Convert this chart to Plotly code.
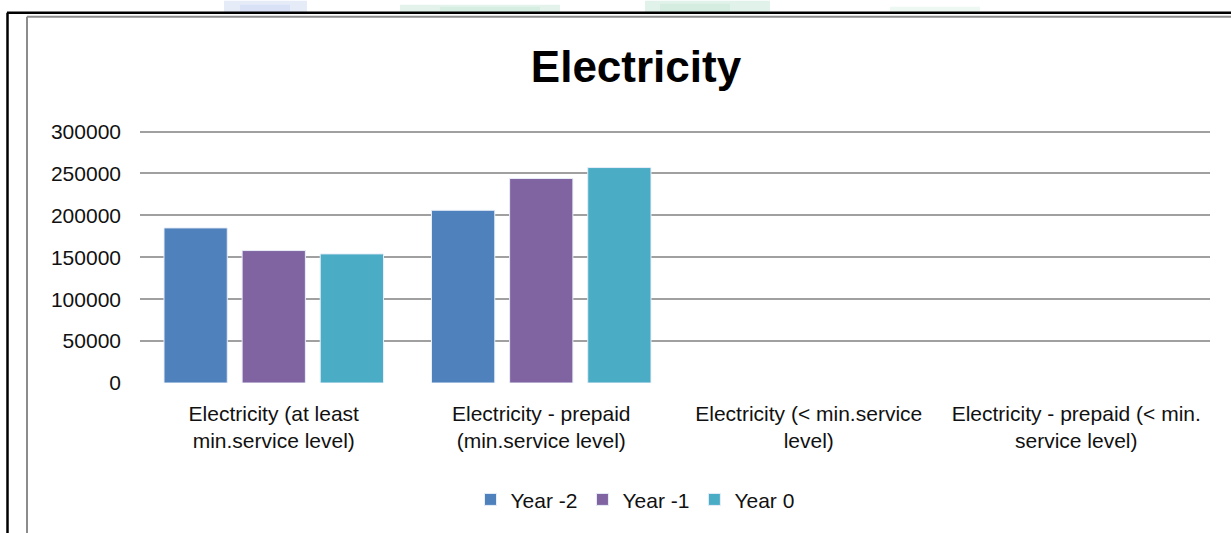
import plotly.graph_objects as go

# Categories and yearly values
categories = [
    "Electricity (at least<br>min.service level)",
    "Electricity - prepaid<br>(min.service level)",
    "Electricity (&lt; min.service<br>level)",
    "Electricity - prepaid (&lt; min.<br>service level)",
]
year_m2 = [185000, 206000, None, None]
year_m1 = [158000, 244000, None, None]
year_0 = [154000, 257000, None, None]

series_names = ["Year -2", "Year -1", "Year 0"]
y_ticks = [0, 50000, 100000, 150000, 200000, 250000, 300000]
y_top = 303000

W, H = 1231, 533
L, R, T, B = 140, 21, 128.5, 150
PW, PH = W - L - R, H - T - B

FONT = "Liberation Sans, Arial, sans-serif"
colors = ["#4F81BD", "#8064A2", "#4BACC6"]


def px_x(x):
    return (x - L) / PW


def px_y(y):
    return (H - B - y) / PH


fig = go.Figure()
for name, vals, col in zip(series_names, [year_m2, year_m1, year_0], colors):
    fig.add_trace(go.Bar(
        x=categories, y=vals, name=name,
        marker=dict(color=col, line=dict(color="#e8eef8", width=1)),
    ))

shapes = []
# faint page decoration above the frame
for x0, x1, y0, c in [(224, 307, 0, "#e6ebf8"), (240, 290, 4, "#d8e1f5"),
                      (400, 560, 4, "#e3f3eb"), (440, 540, 6, "#d6eee2"),
                      (645, 770, 0, "#e0f2e9"), (660, 730, 3, "#d4ede0"),
                      (890, 980, 6, "#eef8f3")]:
    shapes.append(dict(type="rect", xref="paper", yref="paper",
                       x0=px_x(x0), x1=px_x(x1), y0=px_y(12), y1=px_y(y0),
                       fillcolor=c, line=dict(width=0), layer="below"))
# outer black frame
shapes.append(dict(type="line", xref="paper", yref="paper",
                   x0=px_x(7), x1=px_x(1232), y0=px_y(12), y1=px_y(12),
                   line=dict(color="black", width=2.5)))
shapes.append(dict(type="line", xref="paper", yref="paper",
                   x0=px_x(7.5), x1=px_x(7.5), y0=px_y(12), y1=px_y(534),
                   line=dict(color="black", width=2.5)))
# grey chart-area border
shapes.append(dict(type="line", xref="paper", yref="paper",
                   x0=px_x(27), x1=px_x(1232), y0=px_y(16), y1=px_y(16),
                   line=dict(color="#8c8c8c", width=2)))
shapes.append(dict(type="line", xref="paper", yref="paper",
                   x0=px_x(27), x1=px_x(27), y0=px_y(16), y1=px_y(534),
                   line=dict(color="#8c8c8c", width=2)))

fig.update_layout(
    width=W, height=H,
    margin=dict(l=L, r=R, t=T, b=B, autoexpand=False),
    paper_bgcolor="white", plot_bgcolor="white",
    font=dict(family=FONT, color="#111111", size=21),
    title=dict(text="<b>Electricity</b>", x=636 / W, xref="container",
               xanchor="center", y=1 - 67 / H, yref="container",
               yanchor="middle",
               font=dict(family=FONT, size=44, color="black")),
    barmode="group", bargap=0.124, bargroupgap=0.19,
    xaxis=dict(type="category", showgrid=False, showline=False,
               ticks="", ticklabelstandoff=16,
               tickfont=dict(family=FONT, size=21, color="#111111")),
    yaxis=dict(range=[0, y_top], tickvals=y_ticks,
               ticktext=[str(v) for v in y_ticks],
               showgrid=True, gridcolor="#a0a0a0", gridwidth=1.6,
               zeroline=False, showline=False, ticks="",
               ticklabelstandoff=18,
               tickfont=dict(family=FONT, size=21, color="#111111")),
    legend=dict(orientation="h", xref="paper", yref="paper",
                x=px_x(635), xanchor="center", y=px_y(500), yanchor="middle",
                font=dict(family=FONT, size=21, color="#111111"),
                bgcolor="rgba(0,0,0,0)", traceorder="normal"),
    shapes=shapes,
)

fig.write_html("out.html")
